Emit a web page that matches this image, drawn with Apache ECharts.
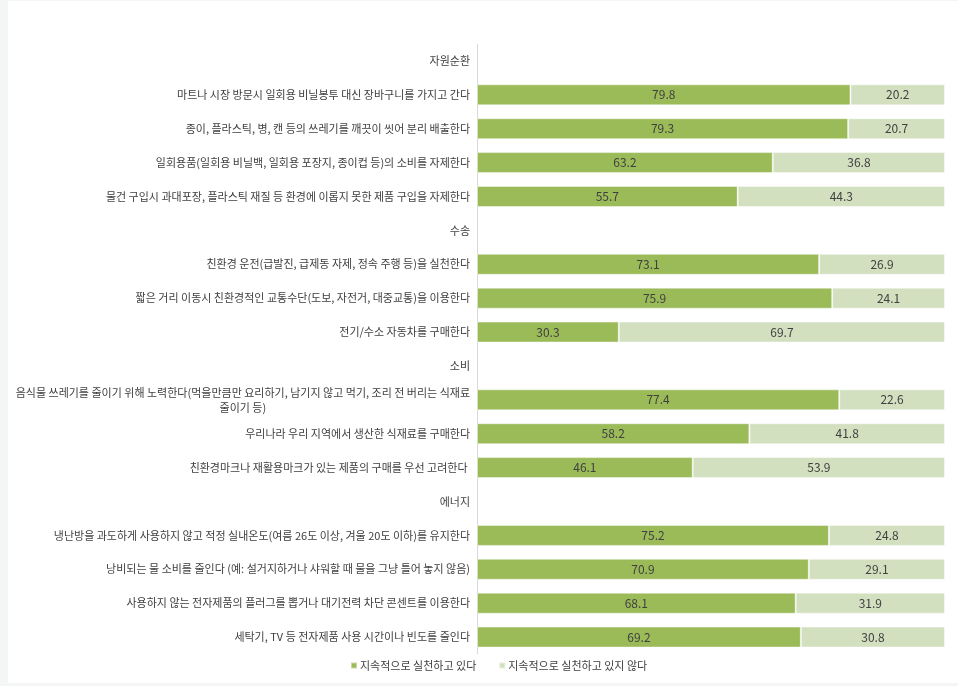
<!DOCTYPE html>
<html><head><meta charset="utf-8">
<script src="https://cdn.jsdelivr.net/npm/echarts@6/dist/echarts.min.js"></script>
<style>
html,body{margin:0;padding:0;background:#f4f6f6;}
#frame{position:absolute;left:8px;top:1px;width:950px;height:682px;background:#fff;}
#chart{position:absolute;left:0;top:0;width:958px;height:686px;}
</style></head>
<body><div id="frame"></div><div id="chart"></div>
<script>
const categories = [
  '자원순환',
  '마트나 시장 방문시 일회용 비닐봉투 대신 장바구니를 가지고 간다',
  '종이, 플라스틱, 병, 캔 등의 쓰레기를 깨끗이 씻어 분리 배출한다',
  '일회용품(일회용 비닐백, 일회용 포장지, 종이컵 등)의 소비를 자제한다',
  '물건 구입시 과대포장, 플라스틱 재질 등 환경에 이롭지 못한 제품 구입을 자제한다',
  '수송',
  '친환경 운전(급발진, 급제동 자제, 정속 주행 등)을 실천한다',
  '짧은 거리 이동시 친환경적인 교통수단(도보, 자전거, 대중교통)을 이용한다',
  '전기/수소 자동차를 구매한다',
  '소비',
  '음식물 쓰레기를 줄이기 위해 노력한다(먹을만큼만 요리하기, 남기지 않고 먹기, 조리 전 버리는 식재료\n줄이기 등)',
  '우리나라 우리 지역에서 생산한 식재료를 구매한다',
  '친환경마크나 재활용마크가 있는 제품의 구매를 우선 고려한다 ',
  '에너지',
  '냉난방을 과도하게 사용하지 않고 적정 실내온도(여름 26도 이상, 겨울 20도 이하)를 유지한다',
  '낭비되는 물 소비를 줄인다 (예: 설거지하거나 샤워할 때 물을 그냥 틀어 놓지 않음)',
  '사용하지 않는 전자제품의 플러그를 뽑거나 대기전력 차단 콘센트를 이용한다',
  '세탁기, TV 등 전자제품 사용 시간이나 빈도를 줄인다'
];
const practicing = [null, 79.8, 79.3, 63.2, 55.7, null, 73.1, 75.9, 30.3, null, 77.4, 58.2, 46.1, null, 75.2, 70.9, 68.1, 69.2];
const notPracticing = [null, 20.2, 20.7, 36.8, 44.3, null, 26.9, 24.1, 69.7, null, 22.6, 41.8, 53.9, null, 24.8, 29.1, 31.9, 30.8];
const seriesNames = ['지속적으로 실천하고 있다', '지속적으로 실천하고 있지 않다'];

const font = "'Noto Sans CJK KR', 'Noto Sans', sans-serif";
const chart = echarts.init(document.getElementById('chart'), null, {renderer:'canvas'});
const labelStyle = {show:true, position:'inside', color:'#404040', fontSize:12, fontFamily:font,
  formatter: p => p.value == null ? '' : p.value.toFixed(1)};
chart.setOption({
  animation:false,
  grid:{left:477, right:13, top:44, bottom:32, containLabel:false},
  legend:{
    data:seriesNames, bottom:10, left:345,
    itemWidth:6, itemHeight:6, itemGap:22,
    icon:'rect',
    textStyle:{color:'#404040', fontSize:11, fontFamily:font, padding:[0,0,0,-2]}
  },
  xAxis:{type:'value', min:0, max:100, show:false},
  yAxis:{
    type:'category', inverse:true, data:categories,
    axisLine:{show:true, lineStyle:{color:'#d9d9d9', width:1}},
    axisTick:{show:false},
    axisLabel:{
      color:'#404040', fontSize:11, fontFamily:font, margin:7, interval:0,
      formatter: v => v.indexOf('\n') >= 0 ? v.split('\n').map(s => '{c|' + s + '}').join('\n') : v,
      rich:{c:{align:'center', color:'#404040', fontSize:11, fontFamily:font, lineHeight:15}}
    }
  },
  series:[
    {name:seriesNames[0], type:'bar', stack:'t', data:practicing, barWidth:21,
     itemStyle:{color:'#9bbb59', borderColor:'rgba(255,255,255,0.45)', borderWidth:1},
     label:labelStyle},
    {name:seriesNames[1], type:'bar', stack:'t', data:notPracticing, barWidth:21,
     itemStyle:{color:'#d3e0c0', borderColor:'rgba(255,255,255,0.45)', borderWidth:1},
     label:labelStyle}
  ]
});
</script></body></html>
